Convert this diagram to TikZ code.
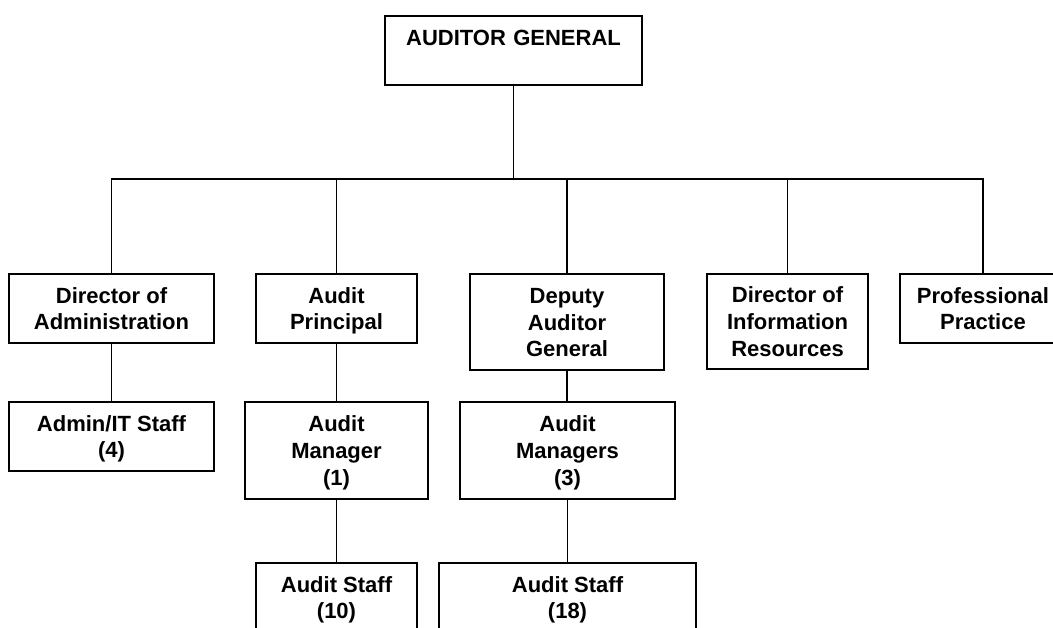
\documentclass[tikz,border=0pt]{standalone}
\usepackage{fontspec}
\setmainfont{Liberation Sans}
\begin{document}
\begin{tikzpicture}[x=1pt,y=-1pt,
  box/.style={draw, line width=1.3pt, inner sep=0pt, align=center,
    text height=42.7pt, text depth=0pt,
    font=\fontsize{22}{26.7}\selectfont\bfseries},
  three/.style={text height=69.4pt},
  conn/.style={line width=1.3pt}]
\useasboundingbox (0,0) rectangle (1053,627);
\clip (0,0) rectangle (1053,627);
\fill[white] (0,0) rectangle (1053,627);
% top
\node[box, minimum width=257pt, text width=257pt, text height=29pt, text depth=40pt] (ag) at (513.5,50.5) {AUDITOR GENERAL};
% second level
\node[box, minimum width=205pt, minimum height=69pt] (da) at (111.5,308.5) {Director of\\Administration};
\node[box, minimum width=161pt, minimum height=69pt] (ap) at (336.5,308.5) {Audit\\Principal};
\node[box, three, minimum width=194pt, minimum height=96pt] (dag) at (567,322) {Deputy\\Auditor\\General};
\node[box, three, minimum width=161pt, minimum height=95pt] (di) at (787.5,321.5) {Director of\\Information\\Resources};
\node[box, minimum width=166pt, minimum height=69pt] (pp) at (983,308.5) {Professional\\Practice};
% third level
\node[box, minimum width=205pt, minimum height=69pt] (it) at (111.5,436.5) {Admin/IT Staff\\(4)};
\node[box, three, minimum width=183pt, minimum height=97pt] (am) at (336.5,450.5) {Audit\\Manager\\(1)};
\node[box, three, minimum width=215pt, minimum height=97pt] (ams) at (567.5,450.5) {Audit\\Managers\\(3)};
% fourth level
\node[box, minimum width=161pt, minimum height=69pt] (as1) at (336.5,597.5) {Audit Staff\\(10)};
\node[box, minimum width=257pt, minimum height=69pt] (as2) at (567.5,597.5) {Audit Staff\\(18)};
% connectors
\coordinate (bus) at (514,179);
\draw[conn] (ag.south) -- (ag.south |- bus);
\draw[conn] (da.north) -- (da.north |- bus) -- (pp.north |- bus) -- (pp.north);
\draw[conn] (ap.north) -- (ap.north |- bus);
\draw[conn] (dag.north) -- (dag.north |- bus);
\draw[conn] (di.north) -- (di.north |- bus);
\draw[conn] (da.south) -- (it.north);
\draw[conn] (ap.south) -- (am.north);
\draw[conn] (am.south) -- (as1.north);
\draw[conn] (dag.south) -- (dag.south |- ams.north);
\draw[conn] (ams.south) -- (ams.south |- as2.north);
\end{tikzpicture}
\end{document}
